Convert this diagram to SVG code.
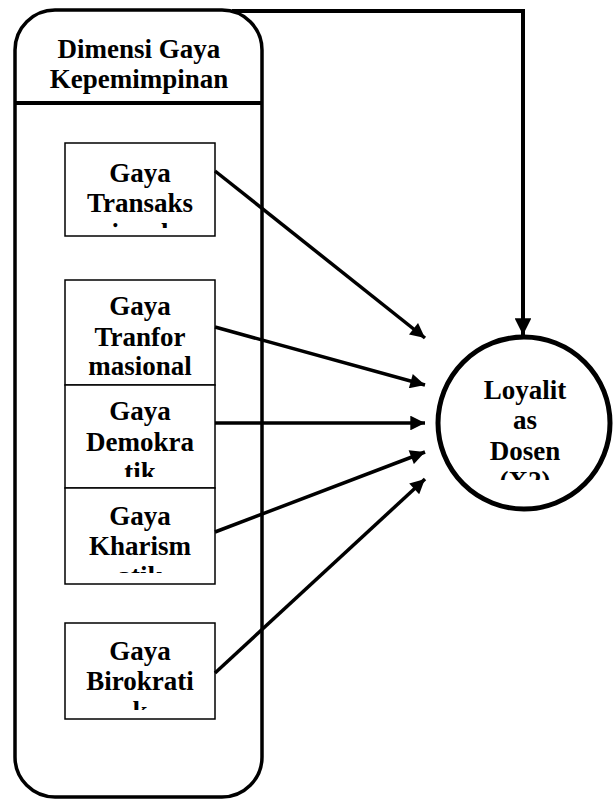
<svg xmlns="http://www.w3.org/2000/svg" width="615" height="801" viewBox="0 0 615 801">
<style>
.t{font-family:"Liberation Serif","Times New Roman",serif;font-weight:bold;font-size:27px;fill:#000;text-anchor:middle}
.box{fill:#fff;stroke:#000;stroke-width:1.5}
.con{stroke:#000;stroke-width:3.5;fill:none}
</style>
<defs>
<marker id="ah" viewBox="0 0 10 10" refX="10" refY="5" markerWidth="4.6" markerHeight="4.2" markerUnits="strokeWidth" orient="auto">
<path d="M0,0 L10,5 L0,10 z" fill="#000"/>
</marker>
<clipPath id="c1"><rect x="66" y="144" width="148" height="84"/></clipPath>
<clipPath id="c2"><rect x="66" y="281" width="148" height="97"/></clipPath>
<clipPath id="c3"><rect x="66" y="386" width="148" height="91"/></clipPath>
<clipPath id="c4"><rect x="66" y="489" width="148" height="84"/></clipPath>
<clipPath id="c5"><rect x="66" y="624" width="148" height="86"/></clipPath>
<clipPath id="cc"><rect x="460" y="370" width="130" height="110"/></clipPath>
</defs>
<g id="dimensi">
<rect x="15" y="10" width="247" height="787" rx="40" ry="40" fill="#fff" stroke="#000" stroke-width="3.5"/>
<line x1="15" y1="103" x2="262" y2="103" stroke="#000" stroke-width="4"/>
<text class="t" x="139" y="58">Dimensi Gaya</text>
<text class="t" x="139" y="88">Kepemimpinan</text>
</g>
<g id="transaksional">
<rect class="box" x="65" y="143" width="150" height="93"/>
<g clip-path="url(#c1)">
<text class="t" x="140" y="182">Gaya</text>
<text class="t" x="140" y="212">Transaks</text>
<text class="t" x="140" y="242">ional</text>
</g>
</g>
<g id="transformasional">
<rect class="box" x="65" y="280" width="150" height="105"/>
<g clip-path="url(#c2)">
<text class="t" x="140" y="315">Gaya</text>
<text class="t" x="140" y="346">Tranfor</text>
<text class="t" x="140" y="375">masional</text>
</g>
</g>
<g id="demokratik">
<rect class="box" x="65" y="385" width="150" height="103"/>
<g clip-path="url(#c3)">
<text class="t" x="140" y="420">Gaya</text>
<text class="t" x="140" y="451">Demokra</text>
<text class="t" x="140" y="481">tik</text>
</g>
</g>
<g id="kharismatik">
<rect class="box" x="65" y="488" width="150" height="96"/>
<g clip-path="url(#c4)">
<text class="t" x="140" y="525">Gaya</text>
<text class="t" x="140" y="555">Kharism</text>
<text class="t" x="140" y="585">atik</text>
</g>
</g>
<g id="birokratik">
<rect class="box" x="65" y="623" width="150" height="96"/>
<g clip-path="url(#c5)">
<text class="t" x="140" y="660">Gaya</text>
<text class="t" x="140" y="690">Birokrati</text>
<text class="t" x="140" y="720">k</text>
</g>
</g>
<g id="loyalitas">
<circle cx="524" cy="423" r="86" fill="#fff" stroke="#000" stroke-width="5"/>
<g clip-path="url(#cc)">
<text class="t" x="525" y="399">Loyalit</text>
<text class="t" x="525" y="429">as</text>
<text class="t" x="525" y="460">Dosen</text>
<text class="t" x="525" y="490">(X2)</text>
</g>
</g>
<g id="connectors">
<polyline class="con" points="232,11 523,11 523,335" marker-end="url(#ah)" style="stroke-width:4"/>
<line class="con" x1="215" y1="171" x2="425" y2="338" marker-end="url(#ah)"/>
<line class="con" x1="215" y1="327" x2="425" y2="385" marker-end="url(#ah)"/>
<line class="con" x1="215" y1="423" x2="425" y2="423" marker-end="url(#ah)"/>
<line class="con" x1="215" y1="532" x2="425" y2="452" marker-end="url(#ah)"/>
<line class="con" x1="215" y1="673" x2="425" y2="479" marker-end="url(#ah)"/>
</g>
</svg>
